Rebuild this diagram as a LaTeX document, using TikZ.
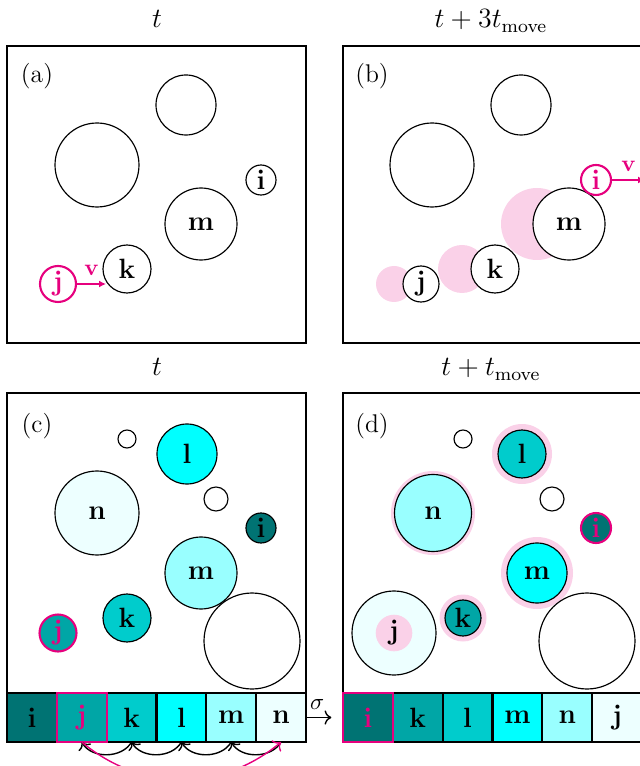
\documentclass[tikz,border=0pt]{standalone}
\usepackage{amsmath}
\usepackage{tikz}
\usetikzlibrary{arrows.meta, positioning}
\usepackage{xcolor}
\definecolor{hotmag}{HTML}{E6007E}
\definecolor{aqua}{RGB}{0,255,255}
\colorlet{ghostpink}{hotmag!18}
\colorlet{tealA}{aqua!45!black}
\colorlet{tealB}{aqua!65!black}
\colorlet{tealC}{aqua!80!black}
\colorlet{aquaM}{aqua!40}
\colorlet{aquaN}{aqua!7}
\def\unitpx{0.43pt}

\begin{document}
\begin{tikzpicture}[x=\unitpx, y=-\unitpx,
    ball/.style={circle, draw, line width=0.5pt, inner sep=0pt,
                 minimum size=2*#1*\unitpx, font=\fontsize{11.5}{13}\selectfont},
    halo/.style={circle, fill=ghostpink, inner sep=0pt,
                 minimum size=2*#1*\unitpx, font=\fontsize{11.5}{13}\selectfont},
    hot/.style={draw=hotmag, text=hotmag, line width=0.9pt},
    frame/.style={draw, line width=0.9pt},
    cell/.style={draw, line width=0.9pt, inner sep=0pt, outer sep=0pt,
                 minimum width=49.83*\unitpx, minimum height=49*\unitpx,
                 font=\fontsize{12.5}{15}\selectfont},
    title/.style={anchor=base, font=\fontsize{12}{14}\selectfont},
    tag/.style={anchor=base, font=\fontsize{11}{13}\selectfont},
    vel/.style={-{Latex[length=3pt, width=3pt]}, hotmag, line width=0.8pt},
    hop/.style={->, line width=0.6pt}]
  \useasboundingbox (0,0) rectangle (639,766);

  % titles and panel labels
  \node[title] (ta) at (157,28) {$t$};
  \node[title] (tb) at (491,28) {$t+3t_{\mathrm{move}}$};
  \node[title] (tc) at (157,376) {$t$};
  \node[title] (td) at (491,376) {$t+t_{\mathrm{move}}$};
  \node[tag] (la) at (37,83) {(a)};
  \node[tag] (lb) at (372,83) {(b)};
  \node[tag] (lc) at (37,432) {(c)};
  \node[tag] (ld) at (372,432) {(d)};

  % (a)
  \draw[frame] (7,46) rectangle (306,343);
  \node[ball=30] (a-o1) at (186,105) {};
  \node[ball=42] (a-o2) at (97,165) {};
  \node[ball=15] (a-i) at (261,180) {$\mathbf{i}$};
  \node[ball=36] (a-m) at (201,224) {$\mathbf{m}$};
  \node[ball=24] (a-k) at (127,269) {$\mathbf{k}$};
  \node[ball=18, hot] (a-j) at (58,284) {$\mathbf{j}$};
  \coordinate (a-hit) at (106,284);
  \draw[vel] (a-j) -- (a-hit) node[midway, above] {$\mathbf{v}$};

  % (b)
  \draw[frame] (343,46) rectangle (642,343);
  \node[ball=30] (b-o1) at (521,105) {};
  \node[ball=42] (b-o2) at (432,165) {};
  \node[halo=36] (b-mg) at (537,224) {};
  \node[halo=24] (b-kg) at (462,269) {};
  \node[halo=18] (b-jg) at (394,284) {};
  \node[ball=36, fill=white] (b-m) at (569,224) {$\mathbf{m}$};
  \node[ball=24, fill=white] (b-k) at (495,269) {$\mathbf{k}$};
  \node[ball=18, fill=white] (b-j) at (421,284) {$\mathbf{j}$};
  \node[ball=15, hot, fill=white] (b-i) at (596,180) {$\mathbf{i}$};
  \coordinate (b-out) at (645,180);
  \draw[vel] (b-i) -- (b-out) node[midway, above] {$\mathbf{v}$};

  % (c)
  \draw[frame] (7,393) rectangle (306,693);
  \node[ball=9] (c-o1) at (127,439) {};
  \node[ball=30, fill=aqua] (c-l) at (187,454) {$\mathbf{l}$};
  \node[ball=12] (c-o2) at (216,499) {};
  \node[ball=42, fill=aquaN] (c-n) at (97,513) {$\mathbf{n}$};
  \node[ball=15, fill=tealA] (c-i) at (261,528) {$\mathbf{i}$};
  \node[ball=36, fill=aquaM] (c-m) at (201,573) {$\mathbf{m}$};
  \node[ball=24, fill=tealC] (c-k) at (127,618) {$\mathbf{k}$};
  \node[ball=18.5, fill=tealB, hot] (c-j) at (58,633) {$\mathbf{j}$};
  \node[ball=48] (c-o3) at (252,641) {};

  % (d)
  \draw[frame] (343,393) rectangle (642,693);
  \node[ball=9] (d-o1) at (463,439) {};
  \node[halo=30] (d-lh) at (522,454) {};
  \node[ball=24, fill=tealC] (d-l) at (522,454) {$\mathbf{l}$};
  \node[ball=12] (d-o2) at (552,499) {};
  \node[halo=42] (d-nh) at (433,513) {};
  \node[ball=38.5, fill=aquaM] (d-n) at (433,513) {$\mathbf{n}$};
  \node[ball=15, fill=tealA, hot] (d-i) at (596,528) {$\mathbf{i}$};
  \node[halo=36] (d-mh) at (537,573) {};
  \node[ball=30, fill=aqua] (d-m) at (537,573) {$\mathbf{m}$};
  \node[halo=23.5] (d-kh) at (463,618) {};
  \node[ball=18, fill=tealB] (d-k) at (463,618) {$\mathbf{k}$};
  \node[ball=42, fill=aquaN] (d-jb) at (394,633) {};
  \node[halo=18.3] (d-j) at (394,633) {$\mathbf{j}$};
  \node[ball=48] (d-o3) at (587,641) {};

  % sorted lists
  \node[cell, fill=tealA] (s-i) at (31.9,717.5) {$\mathbf{i}$};
  \node[cell, fill=tealB, text=hotmag, right=0pt of s-i] (s-j) {$\mathbf{j}$};
  \node[cell, fill=tealC, right=0pt of s-j] (s-k) {$\mathbf{k}$};
  \node[cell, fill=aqua, right=0pt of s-k] (s-l) {$\mathbf{l}$};
  \node[cell, fill=aquaM, right=0pt of s-l] (s-m) {$\mathbf{m}$};
  \node[cell, fill=aquaN, right=0pt of s-m] (s-n) {$\mathbf{n}$};
  \draw[hotmag, line width=0.9pt] (s-j.south west) rectangle (s-j.north east);

  \node[cell, fill=tealA, text=hotmag] (u-i) at (367.9,717.5) {$\mathbf{i}$};
  \node[cell, fill=tealB, right=0pt of u-i] (u-k) {$\mathbf{k}$};
  \node[cell, fill=tealC, right=0pt of u-k] (u-l) {$\mathbf{l}$};
  \node[cell, fill=aqua, right=0pt of u-l] (u-m) {$\mathbf{m}$};
  \node[cell, fill=aquaM, right=0pt of u-m] (u-n) {$\mathbf{n}$};
  \node[cell, fill=aquaN, right=0pt of u-n] (u-j) {$\mathbf{j}$};
  \draw[hotmag, line width=0.9pt] (u-i.south west) rectangle (u-i.north east);

  \draw[hop, shorten >=5pt] (s-n) -- (u-i) node[pos=0.3, above] {$\sigma$};
  \draw[hop] (s-k.south) to[bend left=60] (s-j.south);
  \draw[hop] (s-l.south) to[bend left=60] (s-k.south);
  \draw[hop] (s-m.south) to[bend left=60] (s-l.south);
  \draw[hop] (s-n.south) to[bend left=60] (s-m.south);
  \draw[hop, hotmag] (s-j.south) to[bend right=40] (s-n.south);
\end{tikzpicture}
\end{document}
